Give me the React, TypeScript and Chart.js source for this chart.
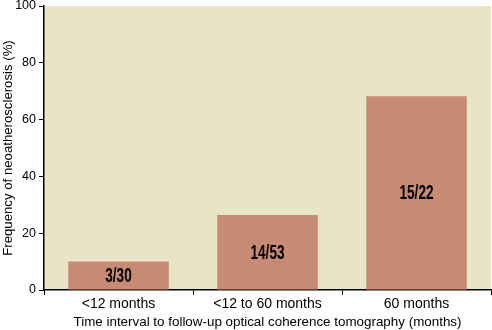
import React, { useEffect, useRef } from "react";
import { Chart, registerables } from "chart.js";

Chart.register(...registerables);

const categories = ["<12 months", "<12 to 60 months", "60 months"];
const frequencies = [10, 26.4, 68.2];
const barLabels = ["3/30", "14/53", "15/22"];
const yTicks = [0, 20, 40, 60, 80, 100];

const FONT = "'Liberation Sans', Arial, sans-serif";

const bgPlugin = {
  id: "plotBg",
  beforeDraw(chart: any) {
    const { ctx, chartArea } = chart;
    ctx.save();
    ctx.fillStyle = "#e9e4c7";
    ctx.fillRect(chartArea.left, chartArea.top, chartArea.right - chartArea.left, chartArea.bottom - chartArea.top);
    ctx.restore();
  },
};

const labelPlugin = {
  id: "barLabels",
  afterDatasetsDraw(chart: any) {
    const { ctx } = chart;
    const meta = chart.getDatasetMeta(0);
    ctx.save();
    ctx.fillStyle = "#000";
    ctx.font = `bold 20px ${FONT}`;
    ctx.textAlign = "center";
    ctx.textBaseline = "middle";
    meta.data.forEach((bar: any, i: number) => {
      const cy = (bar.y + bar.base) / 2;
      ctx.save();
      ctx.translate(bar.x, cy + 1);
      ctx.scale(0.68, 1);
      ctx.fillText(barLabels[i], 0, 0);
      ctx.restore();
    });
    ctx.restore();
  },
};

export default function App() {
  const ref = useRef<HTMLCanvasElement | null>(null);
  useEffect(() => {
    document.body.style.margin = "0";
    const chart = new Chart(ref.current!, {
      type: "bar",
      data: {
        labels: categories,
        datasets: [
          {
            data: frequencies,
            backgroundColor: "#c78a74",
            borderWidth: 0,
            categoryPercentage: 1,
            barPercentage: 0.675,
          },
        ],
      },
      options: {
        responsive: false,
        animation: false,
        layout: { padding: { top: 6, right: 1, left: 0, bottom: 0 } },
        plugins: { legend: { display: false }, tooltip: { enabled: false } },
        scales: {
          x: {
            grid: { display: true, drawOnChartArea: false, drawTicks: true, tickLength: 5, color: "#000", offset: true },
            border: { display: true, color: "#000", width: 1.5 },
            ticks: { color: "#000", font: { family: FONT, size: 14 }, padding: 1 },
            title: {
              display: true,
              text: "Time interval to follow-up optical coherence tomography (months)",
              color: "#000",
              font: { family: FONT, size: 13.4 },
              padding: { top: 2, bottom: 0 },
            },
            afterFit(scale: any) {
              scale.height = 40;
              scale.paddingLeft = 0;
              scale.paddingRight = 0;
            },
          },
          y: {
            min: 0,
            max: 100,
            afterBuildTicks(scale: any) {
              scale.ticks = yTicks.map((v) => ({ value: v }));
            },
            grid: { display: true, drawOnChartArea: false, drawTicks: true, tickLength: 5, color: "#000" },
            border: { display: true, color: "#000", width: 1.5 },
            ticks: { color: "#000", font: { family: FONT, size: 12.5 }, padding: 3 },
            title: {
              display: true,
              text: "Frequency of neoatherosclerosis (%)",
              color: "#000",
              font: { family: FONT, size: 13.2 },
              padding: { top: 0, bottom: 2 },
            },
            afterFit(scale: any) {
              scale.width = 44;
              scale.paddingTop = 0;
              scale.paddingBottom = 0;
            },
          },
        },
      },
      plugins: [bgPlugin, labelPlugin],
    });
    return () => chart.destroy();
  }, []);
  return <canvas ref={ref} width={492} height={330} style={{ display: "block" }} />;
}
